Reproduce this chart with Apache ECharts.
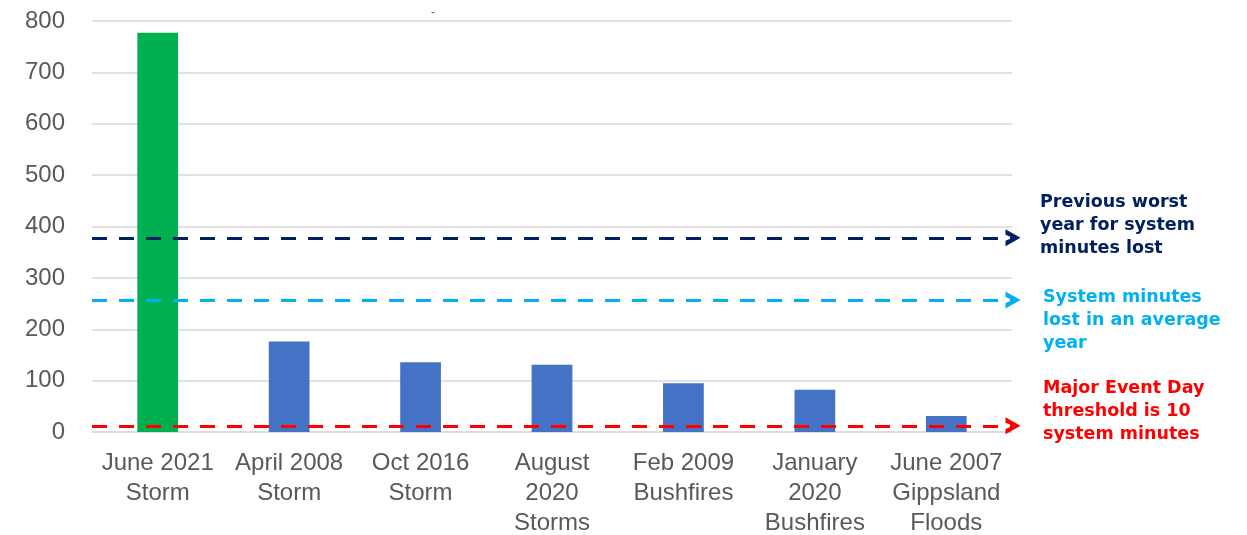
<!DOCTYPE html>
<html>
<head>
<meta charset="utf-8">
<script src="https://cdn.jsdelivr.net/npm/echarts@6/dist/echarts.min.js"></script>
<style>
html,body{margin:0;padding:0;background:#fff;}
#chart{width:1247px;height:535px;}
</style>
</head>
<body>
<div id="chart"></div>
<script>
// Data
const categories = ["June 2021\nStorm", "April 2008\nStorm", "Oct 2016\nStorm", "August\n2020\nStorms", "Feb 2009\nBushfires", "January\n2020\nBushfires", "June 2007\nGippsland\nFloods"];
const minutesLost = [777, 176, 136, 131, 95, 82, 31];
const barColors = ["#00B050", "#4472C4", "#4472C4", "#4472C4", "#4472C4", "#4472C4", "#4472C4"];
const previousWorstYear = 378;
const averageYear = 257;
const majorEventDayThreshold = 12;
const yTicks = { min: 0, max: 800, interval: 100 };

const chevron = 'path://M0,100 L50,0 L100,100 L68,100 L50,52 L32,100 Z';

function refLine(value, color) {
  return {
    type: 'line',
    xAxisIndex: 1,
    yAxisIndex: 1,
    data: [],
    silent: true,
    markLine: {
      silent: true,
      symbol: ['none', chevron],
      symbolSize: [17, 15],
      label: { show: false },
      lineStyle: { color: color, width: 3, type: [15, 12] },
      emphasis: { disabled: true },
      data: [[{ coord: [0, value] }, { coord: [1, value] }]]
    }
  };
}

const chart = echarts.init(document.getElementById('chart'));
chart.setOption({
  animation: false,
  backgroundColor: '#ffffff',
  grid: [
    { left: 92, right: 235, top: 21, bottom: 103, outerBoundsMode: 'none', containLabel: false },
    { left: 92, right: 234, top: 21, bottom: 103, outerBoundsMode: 'none', containLabel: false }
  ],
  xAxis: [
    {
      type: 'category',
      gridIndex: 0,
      data: categories,
      axisLine: { show: true, lineStyle: { color: '#d9d9d9', width: 1.5 } },
      axisTick: { show: false },
      axisLabel: {
        color: '#595959',
        fontFamily: 'Liberation Sans',
        fontSize: 24,
        lineHeight: 30,
        margin: 16,
        interval: 0
      }
    },
    { type: 'value', gridIndex: 1, min: 0, max: 1, show: false }
  ],
  yAxis: [
    {
      type: 'value',
      gridIndex: 0,
      min: yTicks.min,
      max: yTicks.max,
      interval: yTicks.interval,
      axisLine: { show: false },
      axisTick: { show: false },
      splitLine: { lineStyle: { color: '#d9d9d9', width: 1.5 } },
      axisLabel: {
        color: '#595959',
        fontFamily: 'Liberation Sans',
        fontSize: 24,
        margin: 27
      }
    },
    { type: 'value', gridIndex: 1, min: yTicks.min, max: yTicks.max, show: false }
  ],
  series: [
    {
      type: 'bar',
      xAxisIndex: 0,
      yAxisIndex: 0,
      barWidth: '31%',
      data: minutesLost.map((v, i) => ({ value: v, itemStyle: { color: barColors[i] } })),
      silent: true
    },
    refLine(previousWorstYear, '#002060'),
    refLine(averageYear, '#00B0F0'),
    refLine(majorEventDayThreshold, '#FF0000')
  ],
  graphic: [
    {
      type: 'text', left: 1040, top: 191,
      style: {
        text: 'Previous worst\nyear for system\nminutes lost',
        fill: '#002060', fontFamily: 'DejaVu Sans', fontWeight: 'bold', fontSize: 17.5, lineHeight: 23
      }
    },
    {
      type: 'text', left: 1043, top: 286,
      style: {
        text: 'System minutes\nlost in an average\nyear',
        fill: '#00B0F0', fontFamily: 'DejaVu Sans', fontWeight: 'bold', fontSize: 17.5, lineHeight: 23
      }
    },
    {
      type: 'text', left: 1043, top: 377,
      style: {
        text: 'Major Event Day\nthreshold is 10\nsystem minutes',
        fill: '#FF0000', fontFamily: 'DejaVu Sans', fontWeight: 'bold', fontSize: 17.5, lineHeight: 23
      }
    },
    {
      type: 'text', left: 431, top: 7,
      style: { text: '-', fill: '#595959', fontFamily: 'Liberation Sans', fontSize: 12 }
    }
  ]
});
</script>
</body>
</html>
